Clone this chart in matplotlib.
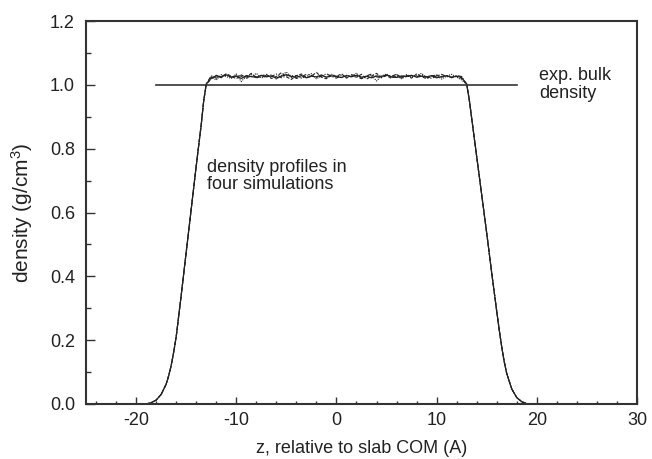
import numpy as np
import matplotlib
matplotlib.use("Agg")
import matplotlib.pyplot as plt
from matplotlib.ticker import MultipleLocator

plt.rcParams['font.family'] = ['Liberation Sans', 'DejaVu Sans']
plt.rcParams['mathtext.fontset'] = 'custom'
plt.rcParams['mathtext.rm'] = 'Liberation Sans'
plt.rcParams['mathtext.it'] = 'Liberation Sans:italic'

# ---- data ----
edge_left_z = [-20.0, -19.0, -18.5, -18.0, -17.5, -17.0, -16.75, -16.5, -16.25, -16.0,
               -15.5, -15.0, -14.5, -14.0, -13.5, -13.25, -13.0]
edge_left_d = [0.0, 0.0, 0.004, 0.012, 0.03, 0.062, 0.088, 0.12, 0.162, 0.21,
               0.34, 0.475, 0.61, 0.745, 0.875, 0.95, 1.002]

edge_right_z = [13.0, 13.25, 13.5, 14.0, 14.5, 15.0, 15.5, 16.0, 16.25, 16.5,
                16.75, 17.0, 17.5, 18.0, 18.5, 19.0, 19.3, 20.0]
edge_right_d = [1.002, 0.955, 0.895, 0.775, 0.655, 0.535, 0.41, 0.29, 0.232, 0.178,
                0.132, 0.095, 0.047, 0.02, 0.007, 0.001, 0.0, 0.0]

plateau_z = np.arange(-12.5, 12.51, 0.5)

sim1 = [1.022, 1.028, 1.025, 1.031, 1.024, 1.027, 1.020, 1.029, 1.026, 1.023,
        1.030, 1.025, 1.028, 1.021, 1.027, 1.032, 1.026, 1.024, 1.029, 1.022,
        1.027, 1.025, 1.031, 1.024, 1.028, 1.026, 1.023, 1.029, 1.025, 1.030,
        1.024, 1.027, 1.022, 1.028, 1.026, 1.031, 1.025, 1.023, 1.028, 1.026,
        1.030, 1.024, 1.027, 1.025, 1.029, 1.022, 1.026, 1.028, 1.024, 1.027,
        1.023]
sim2 = [1.018, 1.030, 1.022, 1.035, 1.027, 1.019, 1.031, 1.024, 1.036, 1.021,
        1.028, 1.033, 1.020, 1.026, 1.038, 1.025, 1.017, 1.029, 1.034, 1.022,
        1.027, 1.039, 1.024, 1.019, 1.031, 1.026, 1.035, 1.021, 1.028, 1.024,
        1.033, 1.018, 1.027, 1.036, 1.023, 1.029, 1.020, 1.032, 1.025, 1.030,
        1.021, 1.034, 1.026, 1.019, 1.028, 1.031, 1.024, 1.029, 1.022, 1.027,
        1.020]
sim3 = [1.025, 1.015, 1.032, 1.026, 1.020, 1.034, 1.010, 1.028, 1.024, 1.036,
        1.022, 1.027, 1.031, 1.018, 1.029, 1.040, 1.023, 1.030, 1.021, 1.026,
        1.035, 1.019, 1.028, 1.024, 1.033, 1.027, 1.022, 1.030, 1.025, 1.037,
        1.020, 1.026, 1.031, 1.012, 1.028, 1.034, 1.023, 1.027, 1.019, 1.032,
        1.025, 1.029, 1.036, 1.021, 1.026, 1.030, 1.018, 1.027, 1.033, 1.024,
        1.015]
sim4 = [1.029, 1.021, 1.026, 1.033, 1.024, 1.030, 1.027, 1.019, 1.032, 1.025,
        1.023, 1.030, 1.026, 1.034, 1.022, 1.028, 1.031, 1.020, 1.025, 1.033,
        1.029, 1.023, 1.027, 1.035, 1.026, 1.021, 1.030, 1.024, 1.032, 1.027,
        1.019, 1.028, 1.034, 1.025, 1.022, 1.030, 1.027, 1.033, 1.021, 1.026,
        1.029, 1.024, 1.031, 1.025, 1.020, 1.028, 1.033, 1.026, 1.023, 1.029,
        1.026]

bulk_z = [-18.0, 18.0]
bulk_d = [1.0, 1.0]

x_ticks = [-20, -10, 0, 10, 20, 30]
y_ticks = [0.0, 0.2, 0.4, 0.6, 0.8, 1.0, 1.2]

# ---- figure ----
fig = plt.figure(figsize=(6.52, 4.59), dpi=100)
ax = fig.add_axes([86/652, 55/459, 551/652, 383/459])

dark = '#222222'
styles = [('-', 0.9), ((0, (3, 1.5)), 0.8), ((0, (1, 1)), 0.8), ((0, (4, 1.5, 1, 1.5)), 0.8)]
for sim, (ls, lw) in zip([sim1, sim2, sim3, sim4], styles):
    z = np.concatenate([edge_left_z, plateau_z, edge_right_z])
    d = np.concatenate([edge_left_d, sim, edge_right_d])
    ax.plot(z, d, color=dark, lw=lw, ls=ls)

ax.plot(bulk_z, bulk_d, color='#333333', lw=1.2)

ax.set_xlim(-25, 30)
ax.set_ylim(0, 1.2)
ax.set_xticks(x_ticks)
ax.set_yticks(y_ticks)
ax.set_xticklabels([str(v) for v in x_ticks])
ax.set_yticklabels([f"{v:.1f}" for v in y_ticks])
ax.xaxis.set_minor_locator(MultipleLocator(2))
ax.yaxis.set_minor_locator(MultipleLocator(0.1))

ax.tick_params(axis='both', which='both', direction='in', colors='#333333',
               labelcolor=dark, labelsize=13, top=False, right=False, width=1.0)
ax.tick_params(axis='x', which='major', length=5, pad=6)
ax.tick_params(axis='x', which='minor', length=2.5)
ax.tick_params(axis='y', which='major', length=6.5, pad=8)
ax.tick_params(axis='y', which='minor', length=3.4)

for sp in ax.spines.values():
    sp.set_color('#333333')
    sp.set_linewidth(1.5)

ax.set_xlabel('z, relative to slab COM (A)', fontsize=13, color=dark)
ax.xaxis.set_label_coords(0.5, -0.095)
ax.set_ylabel('density (g/cm$^3$)', fontsize=15, color=dark)
ax.yaxis.set_label_coords(-0.093, 0.5)

ax.text(20.2, 1.0, 'exp. bulk\ndensity', fontsize=13, color=dark,
        ha='left', va='center', linespacing=1.1)
ax.text(-12.95, 0.714, 'density profiles in\nfour simulations', fontsize=13,
        color=dark, ha='left', va='center', linespacing=1.05)

fig.savefig('out.png', dpi=100, facecolor='white')
